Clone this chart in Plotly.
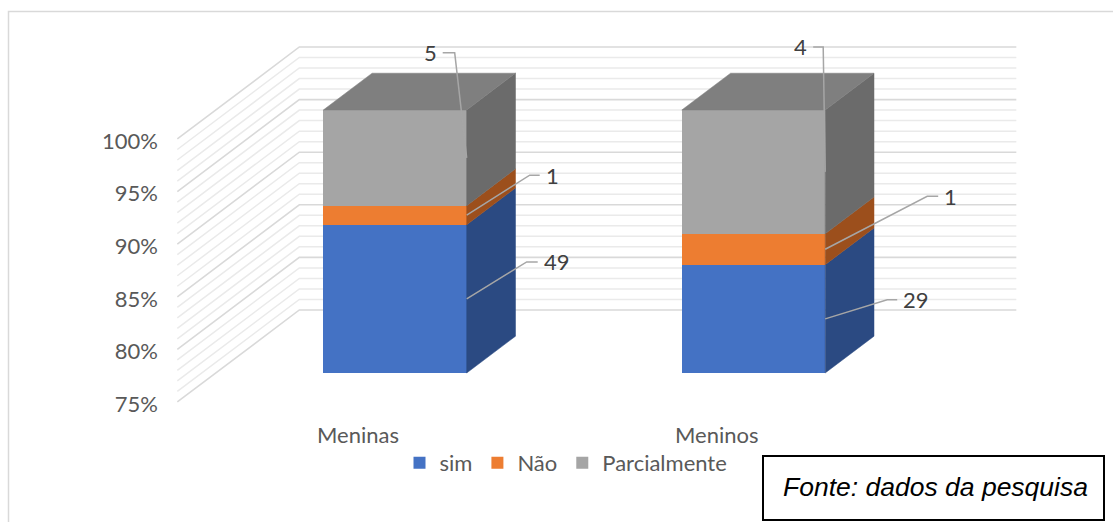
import plotly.graph_objects as go

# ---- data -------------------------------------------------------------
categories = ["Meninas", "Meninos"]
series_names = ["sim", "Não", "Parcialmente"]
sim = [49, 29]
nao = [1, 1]
parcialmente = [5, 4]
tick_values = [75, 80, 85, 90, 95, 100]
tick_labels = ["75%", "80%", "85%", "90%", "95%", "100%"]
source_note = "Fonte: dados da pesquisa"

# ---- styling ----------------------------------------------------------
front_colors = ["#4472C4", "#ED7D31", "#A5A5A5"]
side_colors = ["#2B4A82", "#9C4F1C", "#6B6B6B"]
top_color = "#7F7F7F"
grid_major = "#D9D9D9"
grid_minor = "#EAEAEA"
leader_color = "#A6A6A6"
FONT = "Lato, Calibri, sans-serif"

# ---- canvas / scale ---------------------------------------------------
W, H = 1113, 522
PX_X = 358.5        # pixels per category step
PX_Y = 10.52        # pixels per percentage point
X_ORIGIN_PX = 395   # pixel column of the first category centre
Y_BASE_PX = 373     # pixel row of the baseline on the bar front plane
AXIS_MIN, AXIS_MAX = 75, 100

x0 = -X_ORIGIN_PX / PX_X
x1 = x0 + W / PX_X
y0 = AXIS_MIN - (H - Y_BASE_PX) / PX_Y
y1 = y0 + H / PX_Y

# oblique projection of depth (d = 0 is the bar front plane)
DX_U = 122 / PX_X
DY_U = 92 / PX_Y
D_WALL_FRONT, D_BAR_BACK, D_WALL_BACK = -0.315, 0.40, 0.685
BAR_W = 0.4
FLOOR_L, FLOOR_R = -0.5, len(categories) - 0.5
LABEL_SHIFT = 2.95          # tick labels sit on the front edge of the side wall


def proj(x, y, d):
    return x + d * DX_U, y + d * DY_U


def px(dx, dy):
    """pixel offset -> axis units"""
    return dx / PX_X, -dy / PX_Y


fig = go.Figure()

# ---- walls: gridlines every 1 %, darker every 5 % ---------------------
shapes = []
for v in range(AXIS_MIN, AXIS_MAX + 1):
    ax_, ay_ = proj(FLOOR_L, v, D_WALL_FRONT)
    bx_, by_ = proj(FLOOR_L, v, D_WALL_BACK)
    cx_, cy_ = proj(FLOOR_R, v, D_WALL_BACK)
    major = v % 5 == 0
    shapes.append(dict(
        type="path", xref="x", yref="y", layer="below",
        path=f"M{ax_},{ay_} L{bx_},{by_} L{cx_},{cy_}",
        line=dict(color=grid_major if major else grid_minor,
                  width=1.6 if major else 1.5)))

# ---- stacked 100 % columns -------------------------------------------
values = [sim, nao, parcialmente]
totals = [sum(col) for col in zip(*values)]
lows, highs = [], []
for s, vals in enumerate(values):
    lo_row, hi_row = [], []
    for i, v in enumerate(vals):
        lo = AXIS_MIN if s == 0 else highs[s - 1][i]
        hi = 100 * sum(values[k][i] for k in range(s + 1)) / totals[i]
        lo_row.append(lo)
        hi_row.append(hi)
    lows.append(lo_row)
    highs.append(hi_row)

for s, name in enumerate(series_names):
    fig.add_trace(go.Bar(
        x=list(range(len(categories))),
        y=[h - l for h, l in zip(highs[s], lows[s])],
        base=lows[s], width=BAR_W, name=name,
        marker=dict(color=front_colors[s], line=dict(width=0)),
        hoverinfo="skip"))

# side and top faces
for i in range(len(categories)):
    xr = i + BAR_W / 2
    xl = i - BAR_W / 2
    for s in range(len(series_names)):
        lo, hi = lows[s][i], highs[s][i]
        p1 = proj(xr, lo, 0)
        p2 = proj(xr, lo, D_BAR_BACK)
        p3 = proj(xr, hi, D_BAR_BACK)
        p4 = proj(xr, hi, 0)
        fig.add_trace(go.Scatter(
            x=[p1[0], p2[0], p3[0], p4[0], p1[0]],
            y=[p1[1], p2[1], p3[1], p4[1], p1[1]],
            mode="lines", fill="toself", fillcolor=side_colors[s],
            line=dict(width=0.5, color=side_colors[s]),
            showlegend=False, hoverinfo="skip"))
    top = highs[-1][i]
    q = [proj(xl, top, 0), proj(xr, top, 0),
         proj(xr, top, D_BAR_BACK), proj(xl, top, D_BAR_BACK)]
    fig.add_trace(go.Scatter(
        x=[p[0] for p in q] + [q[0][0]], y=[p[1] for p in q] + [q[0][1]],
        mode="lines", fill="toself", fillcolor=top_color,
        line=dict(width=0.5, color=top_color),
        showlegend=False, hoverinfo="skip"))

# ---- data labels with leader lines -----------------------------------
# (elbow offset, end offset) in pixels from the segment's right edge midpoint
leader_offsets = {
    (0, 2): ((-12, -105), (-24, -105)),
    (0, 1): ((63, -40), (73, -40)),
    (0, 0): ((60, -37), (71, -37)),
    (1, 2): ((-2, -125), (-12, -125)),
    (1, 1): ((102, -53), (113, -53)),
    (1, 0): ((62, -19), (72, -19)),
}
annotations = []
for (i, s), (elbow, end) in leader_offsets.items():
    axx = i + BAR_W / 2
    ayy = (lows[s][i] + highs[s][i]) / 2
    ex, ey = px(*elbow)
    nx, ny = px(*end)
    fig.add_trace(go.Scatter(
        x=[axx, axx + ex, axx + nx], y=[ayy, ayy + ey, ayy + ny],
        mode="lines", line=dict(color=leader_color, width=1.5),
        showlegend=False, hoverinfo="skip"))
    left_side = end[0] < 0
    annotations.append(dict(
        x=axx + nx, y=ayy + ny, xref="x", yref="y",
        text=str(values[s][i]), showarrow=False,
        xanchor="right" if left_side else "left",
        xshift=-4 if left_side else 4, yanchor="middle",
        font=dict(family=FONT, size=22, color="#404040")))

# category labels on the floor's front edge
for i, cat in enumerate(categories):
    cx, cy = px(-37, 61)
    annotations.append(dict(
        x=i + cx, y=AXIS_MIN + cy, xref="x", yref="y", text=cat,
        showarrow=False, xanchor="center", yanchor="middle",
        font=dict(family=FONT, size=22, color="#595959")))

# source note box
annotations.append(dict(
    x=(766 + 1104) / 2 / W, y=1 - 487 / H, xref="paper", yref="paper",
    text=f"<i>{source_note}</i>", showarrow=False,
    xanchor="center", yanchor="middle",
    font=dict(family="Liberation Sans, Arial, sans-serif", size=26.5,
              color="#000000")))
shapes.append(dict(type="rect", xref="paper", yref="paper",
                   x0=763 / W, x1=1104 / W, y0=1 - 520 / H, y1=1 - 456 / H,
                   line=dict(color="#000000", width=2),
                   fillcolor="rgba(0,0,0,0)"))

# outer chart frame
shapes.append(dict(type="rect", xref="paper", yref="paper", layer="below",
                   x0=8.5 / W, x1=1.02, y0=-0.02, y1=1 - 11.5 / H,
                   line=dict(color="#D9D9D9", width=1.5)))

# invisible carrier so the label axis is rendered
fig.add_trace(go.Scatter(
    x=[x0] * len(tick_values), y=tick_values, yaxis="y2",
    mode="markers", marker=dict(opacity=0, size=1),
    showlegend=False, hoverinfo="skip"))

fig.update_layout(
    width=W, height=H,
    margin=dict(l=0, r=0, t=0, b=0, pad=0),
    paper_bgcolor="white", plot_bgcolor="white",
    barmode="overlay", bargap=0,
    xaxis=dict(range=[x0, x1], visible=False, fixedrange=True),
    yaxis=dict(range=[y0, y1], visible=False, fixedrange=True),
    yaxis2=dict(overlaying="y", anchor="free", position=158 / W, side="left",
                range=[y0 + LABEL_SHIFT, y1 + LABEL_SHIFT],
                tickvals=tick_values, ticktext=tick_labels,
                showgrid=False, zeroline=False, showline=False, ticks="",
                tickfont=dict(family=FONT, size=22, color="#595959"),
                fixedrange=True),
    legend=dict(orientation="h", x=566 / W, xanchor="center",
                y=1 - 463 / H, yanchor="middle",
                font=dict(family=FONT, size=22, color="#595959"),
                bgcolor="rgba(0,0,0,0)", itemwidth=30, traceorder="normal"),
    shapes=shapes, annotations=annotations,
    showlegend=True,
)

fig.write_html("out.html")
